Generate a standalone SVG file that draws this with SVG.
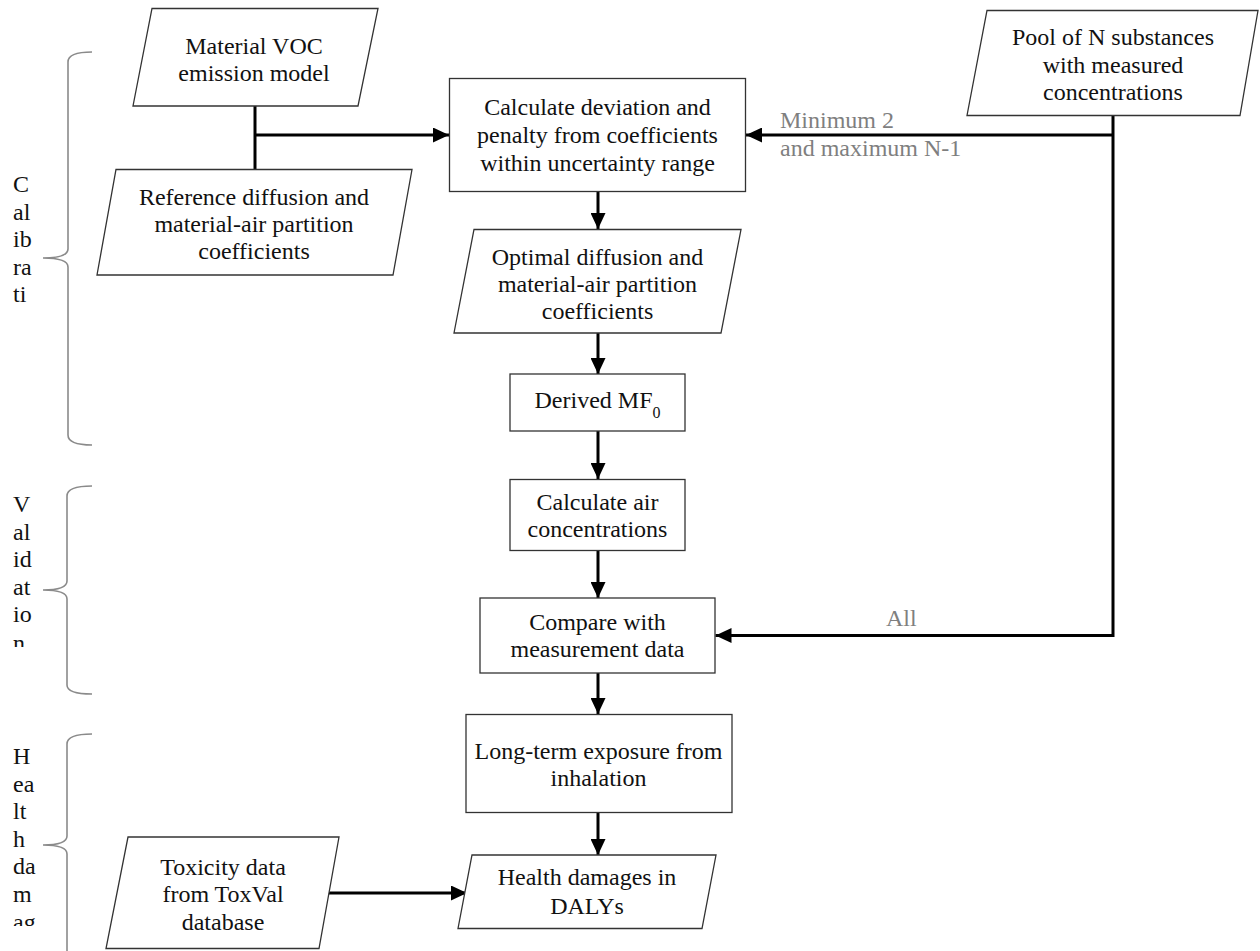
<svg xmlns="http://www.w3.org/2000/svg" width="1260" height="951" viewBox="0 0 1260 951">
<style>
.box{fill:#fff;stroke:#333;stroke-width:1.3}
.t{font-family:"Liberation Serif","Times New Roman",serif;font-size:24px;fill:#111;text-anchor:middle}
.side{font-family:"Liberation Serif","Times New Roman",serif;font-size:24px;fill:#111}
.lbl{font-family:"Liberation Serif","Times New Roman",serif;font-size:24px;fill:#7f7f7f}
.c{fill:none;stroke:#000;stroke-width:3}
.a{marker-end:url(#arr)}
.brace{fill:none;stroke:#8a8a8a;stroke-width:1.6}
</style>
<defs>
<marker id="arr" markerUnits="userSpaceOnUse" markerWidth="16" markerHeight="15" refX="16" refY="7.5" orient="auto">
<path d="M0,0 L16,7.5 L0,15 z" fill="#000"/>
</marker>
<clipPath id="clipV"><rect x="0" y="480" width="60" height="167"/></clipPath>
<clipPath id="clipH"><rect x="0" y="730" width="60" height="196"/></clipPath>
</defs>
<rect width="1260" height="951" fill="#fff"/>

<g id="braces">
<path class="brace" d="M92,52 C76,52 68,55 68,62 V249 C68,255 61,258 43,258 C61,258 68,261 68,267 V435 C68,442 76,445 92,445"/>
<path class="brace" d="M92,486 C75,486 67,489 67,496 V581 C67,587 60,590 43,590 C60,590 67,593 67,599 V685 C67,691 75,694 92,694"/>
<path class="brace" d="M92,734 C75,734 67,737 67,744 V836 C67,842 60,845 43,845 C60,845 67,848 67,854 V951"/>
</g>

<g id="side-labels">
<g id="calibration-label">
<text class="side" x="13" y="192">C</text>
<text class="side" x="13" y="219.5">al</text>
<text class="side" x="13" y="247">ib</text>
<text class="side" x="13" y="274.5">ra</text>
<text class="side" x="13" y="302">ti</text>
</g>
<g id="validation-label" clip-path="url(#clipV)">
<text class="side" x="13" y="512">V</text>
<text class="side" x="13" y="539.5">al</text>
<text class="side" x="13" y="567">id</text>
<text class="side" x="13" y="594.5">at</text>
<text class="side" x="13" y="622">io</text>
<text class="side" x="13" y="651">n</text>
</g>
<g id="health-label" clip-path="url(#clipH)">
<text class="side" x="13" y="764">H</text>
<text class="side" x="13" y="791.5">ea</text>
<text class="side" x="13" y="819">lt</text>
<text class="side" x="13" y="846.5">h</text>
<text class="side" x="13" y="874">da</text>
<text class="side" x="13" y="901.5">m</text>
<text class="side" x="13" y="930">ag</text>
</g>
</g>

<g id="connectors">
<path class="c" d="M255,106 V169"/>
<path class="c a" d="M255,135 H449"/>
<path class="c a" d="M1113,116 V635.5 H715.5"/>
<path class="c a" d="M1113,135 H746"/>
<path class="c a" d="M598,192 V229"/>
<path class="c a" d="M598,333 V374"/>
<path class="c a" d="M598,431 V479"/>
<path class="c a" d="M598,551 V598"/>
<path class="c a" d="M598,673 V714"/>
<path class="c a" d="M598,812 V855"/>
<path class="c a" d="M325,893 H467"/>
<text class="lbl" x="780" y="128">Minimum 2</text>
<text class="lbl" x="780" y="156">and maximum N-1</text>
<text class="lbl" x="886" y="626">All</text>
</g>

<g id="material-voc">
<polygon class="box" points="152,8.5 378,8.5 358,106 133,106"/>
<text class="t" x="254" y="53.5">Material VOC</text>
<text class="t" x="254" y="80.5">emission model</text>
</g>

<g id="reference-coefficients">
<polygon class="box" points="116,169.5 412,169.5 393,275 97,275"/>
<text class="t" x="254" y="205">Reference diffusion and</text>
<text class="t" x="254" y="232">material-air partition</text>
<text class="t" x="254" y="259">coefficients</text>
</g>

<g id="calculate-deviation">
<rect class="box" x="449.5" y="78.5" width="296" height="113"/>
<text class="t" x="597.5" y="115">Calculate deviation and</text>
<text class="t" x="597.5" y="142.5">penalty from coefficients</text>
<text class="t" x="597.5" y="170.5">within uncertainty range</text>
</g>

<g id="pool">
<polygon class="box" points="987,10.5 1258,10.5 1240,115.5 967,115.5"/>
<text class="t" x="1113" y="45">Pool of N substances</text>
<text class="t" x="1113" y="72.5">with measured</text>
<text class="t" x="1113" y="100">concentrations</text>
</g>

<g id="optimal-coefficients">
<polygon class="box" points="474,229.5 741,229.5 721,333 454,333"/>
<text class="t" x="597.5" y="265">Optimal diffusion and</text>
<text class="t" x="597.5" y="291.5">material-air partition</text>
<text class="t" x="597.5" y="318.5">coefficients</text>
</g>

<g id="derived-mf0">
<rect class="box" x="510" y="374" width="175" height="57"/>
<text class="t" x="597.5" y="408">Derived MF<tspan font-size="16" dy="10">0</tspan></text>
</g>

<g id="calculate-air">
<rect class="box" x="510" y="479.5" width="175" height="71"/>
<text class="t" x="597.5" y="510">Calculate air</text>
<text class="t" x="597.5" y="537">concentrations</text>
</g>

<g id="compare">
<rect class="box" x="480" y="598" width="235" height="75"/>
<text class="t" x="597.5" y="630">Compare with</text>
<text class="t" x="597.5" y="657">measurement data</text>
</g>

<g id="long-term-exposure">
<rect class="box" x="466" y="714.5" width="266" height="98"/>
<text class="t" x="598.5" y="758.5">Long-term exposure from</text>
<text class="t" x="598.5" y="786">inhalation</text>
</g>

<g id="health-damages">
<polygon class="box" points="472,855 716,855 702,928.5 458,928.5"/>
<text class="t" x="587" y="885">Health damages in</text>
<text class="t" x="587" y="913.5">DALYs</text>
</g>

<g id="toxicity-data">
<polygon class="box" points="128,837 339,837 319,948.5 106,948.5"/>
<text class="t" x="223" y="875">Toxicity data</text>
<text class="t" x="223" y="902">from ToxVal</text>
<text class="t" x="223" y="929.5">database</text>
</g>
</svg>
